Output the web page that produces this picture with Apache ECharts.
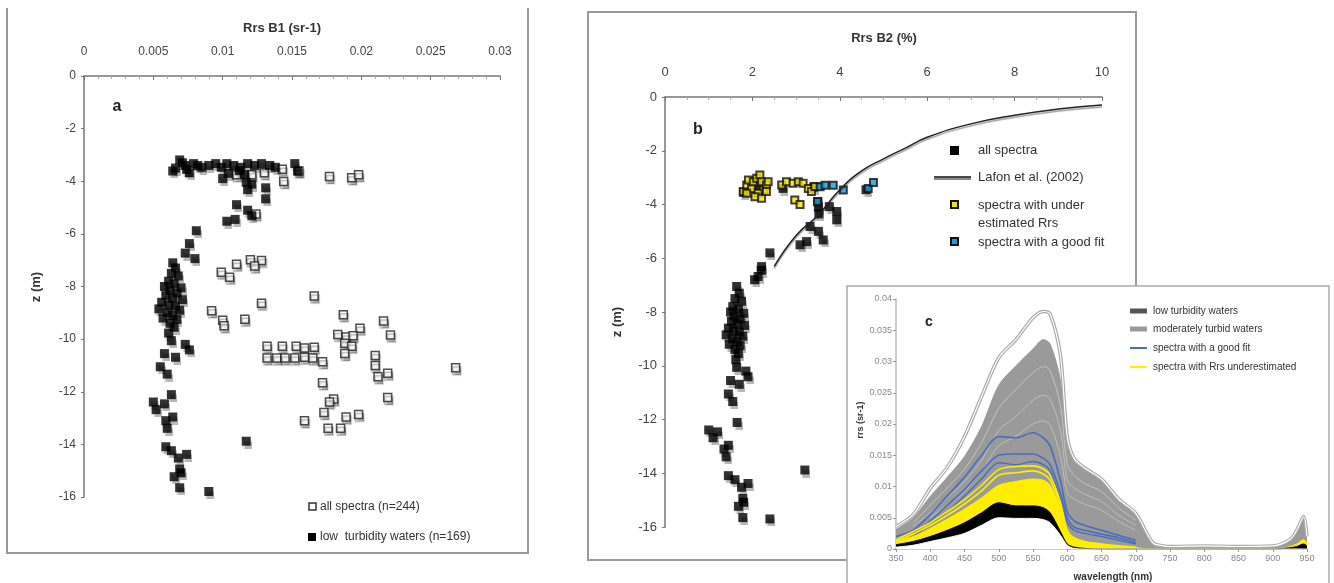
<!DOCTYPE html>
<html>
<head>
<meta charset="utf-8">
<script src="https://cdn.jsdelivr.net/npm/echarts@6/dist/echarts.min.js"></script>
<style>
  html, body { margin: 0; padding: 0; background: #fff; }
  #fig { width: 1334px; height: 583px; }
</style>
</head>
<body>
<div id="fig"></div>
<script>
// ---- panel a : Rrs B1 vs depth ----
var aAllX = [0.0110,0.0121,0.0130,0.0143,0.0144,0.0155,0.0177,0.0193,0.0198,0.0124,0.0110,0.0120,0.0128,0.0123,0.0099,0.0105,0.0128,0.0166,0.0092,0.0100,0.0101,0.0116,0.0187,0.0216,0.0199,0.0183,0.0189,0.0194,0.0221,0.0188,0.0193,0.0188,0.0132,0.0143,0.0153,0.0159,0.0166,0.0132,0.0139,0.0145,0.0152,0.0159,0.0165,0.0172,0.0210,0.0210,0.0212,0.0219,0.0268,0.0172,0.0219,0.0180,0.0177,0.0173,0.0189,0.0198,0.0159,0.0176,0.0185];
var aAllZ = [-3.75,-3.75,-3.68,-3.54,-4.01,-3.61,-3.82,-3.87,-3.75,-5.24,-7.15,-6.98,-7.01,-7.22,-7.46,-7.65,-8.64,-8.36,-8.92,-9.28,-9.49,-9.24,-9.07,-9.31,-9.59,-9.82,-9.92,-9.87,-9.84,-10.16,-10.27,-10.55,-10.27,-10.27,-10.27,-10.34,-10.31,-10.72,-10.72,-10.72,-10.72,-10.69,-10.72,-10.86,-10.62,-11.0,-11.43,-11.30,-11.09,-11.66,-12.22,-12.28,-12.39,-12.79,-12.96,-12.86,-13.10,-13.39,-13.39];

var aLowX = [0.0064,0.0069,0.0073,0.0076,0.0079,0.0085,0.0090,0.0095,0.0099,0.0100,0.0103,0.0108,0.0113,0.0116,0.0118,0.0123,0.0128,0.0134,0.0138,0.0152,0.0154,0.0066,0.0071,0.0074,0.0082,0.0104,0.0112,
  0.0117,0.0118,0.0121,0.0131,0.0131,0.0110,0.0118,0.0121,0.0103,0.0109,0.0081,0.0076,0.0073,0.0080,
  0.0064,0.0066,0.0063,0.0068,0.0061,0.0065,0.0058,0.0070,0.0062,0.0067,0.0059,0.0064,0.0071,0.0056,0.0061,0.0066,0.0054,0.0069,0.0060,0.0064,0.0057,0.0067,0.0062,0.0065,
  0.0061,0.0063,0.0073,0.0076,0.0058,0.0066,0.0055,0.0060,0.0063,0.0050,0.0052,0.0058,0.0064,0.0059,0.0060,0.0059,0.0063,0.0068,0.0074,0.0069,0.0070,0.0065,0.0069,0.0090,0.0117];
var aLowZ = [-3.61,-3.19,-3.40,-3.68,-3.33,-3.47,-3.40,-3.33,-3.47,-3.90,-3.33,-3.40,-3.47,-3.75,-3.33,-3.40,-3.33,-3.40,-3.47,-3.33,-3.61,-3.50,-3.30,-3.55,-3.40,-3.70,-3.60,
  -4.04,-4.32,-4.11,-4.25,-4.67,-4.89,-5.10,-5.31,-5.52,-5.45,-5.88,-6.37,-6.73,-6.94,
  -7.10,-7.30,-7.50,-7.60,-7.80,-7.90,-8.00,-8.05,-8.15,-8.25,-8.35,-8.45,-8.50,-8.60,-8.70,-8.75,-8.85,-8.90,-9.00,-9.10,-9.20,-9.25,-9.40,-9.55,
  -9.77,-10.06,-10.20,-10.41,-10.55,-10.69,-11.05,-11.33,-12.11,-12.39,-12.68,-12.46,-12.96,-13.10,-13.39,-14.09,-14.24,-14.52,-14.38,-14.94,-15.08,-15.23,-15.65,-15.79,-13.88];

// ---- panel b : Rrs B2 vs depth ----
var bAllX = [1.80,2.10,2.70,3.40,4.60,3.50,3.51,3.52,3.76,3.93,3.93,3.32,3.51,3.62,3.24,3.09,2.40,2.21,2.13,2.05,2.20,
  1.64,1.70,1.60,1.75,1.55,1.68,1.50,1.80,1.58,1.72,1.52,1.65,1.82,1.45,1.57,1.70,1.40,1.78,1.55,1.65,1.47,1.72,1.60,1.68,
  1.62,1.64,1.85,1.90,1.50,1.70,1.45,1.55,1.65,1.00,1.10,1.20,1.45,1.35,1.40,1.45,1.60,1.75,1.90,1.78,1.80,1.68,1.78,2.40,3.20];
var bAllZ = [-3.55,-3.30,-3.40,-3.35,-3.45,-3.90,-4.10,-4.35,-4.08,-4.26,-4.57,-4.82,-5.00,-5.32,-5.38,-5.50,-5.80,-6.31,-6.68,-6.80,-6.45,
  -7.05,-7.30,-7.50,-7.60,-7.80,-7.90,-8.00,-8.05,-8.15,-8.25,-8.35,-8.45,-8.50,-8.60,-8.70,-8.75,-8.85,-8.90,-9.00,-9.10,-9.20,-9.25,-9.40,-9.55,
  -9.77,-10.06,-10.20,-10.41,-10.55,-10.69,-11.05,-11.33,-12.11,-12.39,-12.68,-12.46,-12.96,-13.10,-13.39,-14.09,-14.24,-14.52,-14.38,-14.94,-15.08,-15.23,-15.65,-15.70,-13.88];

var bUnderX = [1.79,1.87,1.91,1.98,2.02,2.10,2.17,2.21,2.25,2.32,2.13,2.06,2.21,2.32,1.87,2.36,2.67,2.78,2.93,3.05,3.16,3.28,3.35,3.43,2.97,3.09];
var bUnderZ = [-3.52,-3.27,-3.09,-3.40,-3.15,-3.02,-2.90,-3.15,-3.46,-3.27,-3.58,-3.71,-3.77,-3.52,-3.58,-3.15,-3.27,-3.15,-3.21,-3.15,-3.21,-3.40,-3.52,-3.33,-3.83,-4.00];

var bGoodX = [3.55,3.66,3.85,4.08,3.49,4.65,4.77];
var bGoodZ = [-3.34,-3.28,-3.28,-3.46,-3.89,-3.40,-3.18];

var lafonX = [2.5,3.0,3.5,4.0,4.5,5.0,5.5,6.0,7.0,8.0,9.0,10.0];
var lafonZ = [-6.3,-5.15,-4.4,-3.45,-2.75,-2.3,-1.9,-1.5,-1.0,-0.68,-0.45,-0.3];

// ---- panel c : spectra ----
var wl       = [350,375,400,425,450,475,500,525,550,565,575,590,600,610,625,650,675,700,725,740,750,800,850,900,925,935,945,950];
var rrsMax   = [0.0036,0.0055,0.0097,0.0131,0.0180,0.0244,0.0306,0.0335,0.0370,0.0380,0.0376,0.0310,0.0180,0.0145,0.0130,0.0112,0.0080,0.0057,0.0010,0.0005,0.0004,0.0005,0.0004,0.0005,0.0015,0.0030,0.0052,0.0020];
var grayTop  = [0.0031,0.0050,0.0084,0.0115,0.0148,0.0196,0.0262,0.0293,0.0320,0.0335,0.0328,0.0270,0.0170,0.0142,0.0128,0.0110,0.0079,0.0056,0.0010,0.0005,0.0004,0.0005,0.0004,0.0005,0.0015,0.0030,0.0050,0.0020];
var streak1  = [null,0.0042,0.0070,0.0098,0.0128,0.0170,0.0225,0.0255,0.0282,0.0292,0.0285,0.0230,0.0135,0.0118,0.0105,0.0092,0.0066,0.0046,null,null,null,null,null,null,null,null,null,null];
var streak2  = [null,0.0036,0.0058,0.0082,0.0108,0.0142,0.0190,0.0212,0.0238,0.0246,0.0240,0.0190,0.0110,0.0098,0.0088,0.0076,0.0054,0.0038,null,null,null,null,null,null,null,null,null,null];
var streak3  = [null,null,0.0050,0.0070,0.0092,0.0125,0.0165,0.0180,0.0200,0.0205,0.0198,0.0150,0.0090,0.0080,0.0072,0.0062,0.0044,0.0030,null,null,null,null,null,null,null,null,null,null];
var blue1    = [0.0020,0.0030,0.0055,0.0085,0.0115,0.0150,0.0180,0.0178,0.0186,0.0178,0.0165,0.0110,0.0060,0.0045,0.0038,0.0030,0.0022,0.0014,null,null,null,null,null,null,null,null,null,null];
var blue2    = [0.0015,0.0025,0.0045,0.0070,0.0095,0.0125,0.0150,0.0152,0.0152,0.0145,0.0135,0.0090,0.0050,0.0035,0.0030,0.0024,0.0018,0.0010,null,null,null,null,null,null,null,null,null,null];
var blue3    = [0.0012,0.0020,0.0040,0.0060,0.0085,0.0112,0.0138,0.0135,0.0140,0.0135,0.0125,0.0080,0.0042,0.0030,0.0025,0.0020,0.0014,0.0008,null,null,null,null,null,null,null,null,null,null];
var yellow1  = [0.0015,0.0028,0.0042,0.0060,0.0079,0.0102,0.0127,0.0132,0.0133,0.0128,0.0118,0.0075,0.0030,0.0018,0.0012,0.0008,0.0005,0.0003,null,null,null,null,null,null,null,null,null,null];
var yellow2  = [0.0013,0.0024,0.0038,0.0054,0.0072,0.0093,0.0118,0.0122,0.0125,0.0120,0.0110,0.0070,0.0028,0.0016,0.0011,0.0007,0.0004,0.0002,null,null,null,null,null,null,null,null,null,null];
var yellowBand = [0.0012,0.0020,0.0033,0.0048,0.0064,0.0082,0.0102,0.0108,0.0112,0.0110,0.0102,0.0065,0.0025,0.0015,0.0010,0.0007,0.0004,0.0002,0,0,0,0,0,0,0.0004,0.0008,0.0015,0.0010];
var blackBand  = [0.0007,0.0012,0.0020,0.0030,0.0042,0.0058,0.0074,0.0069,0.0069,0.0066,0.0058,0.0028,0.0008,0.0003,0.0001,0,0,0,0,0,0,0,0,0,0.0002,0.0004,0.0008,0.0005];
var rrsMin     = [0.0003,0.0006,0.0012,0.0018,0.0025,0.0038,0.0050,0.0049,0.0049,0.0047,0.0042,0.0022,0.0006,0.0001,0,0,0,0,0,0,0,0,0,0,0,0,0,0];

var FONT = 'Liberation Sans, Arial, sans-serif';

function zip(xs, ys) {
  var out = [];
  for (var i = 0; i < xs.length; i++) out.push([xs[i], ys[i]]);
  return out;
}

var shadowItem = { shadowColor: 'rgba(0,0,0,0.35)', shadowBlur: 1, shadowOffsetX: 1, shadowOffsetY: 3 };

function specLine(vals, color, width, opacity, z) {
  return {
    type: 'line', xAxisIndex: 2, yAxisIndex: 2, data: zip(wl, vals),
    symbol: 'none', smooth: 0.3, silent: true, connectNulls: false, z: z,
    lineStyle: { color: color, width: width, opacity: opacity }
  };
}
function specArea(vals, color, z) {
  return {
    type: 'line', xAxisIndex: 2, yAxisIndex: 2, data: zip(wl, vals),
    symbol: 'none', smooth: 0.3, silent: true, z: z,
    lineStyle: { color: color, width: 1 },
    areaStyle: { color: color, opacity: 1, origin: 'start' }
  };
}

var chart = echarts.init(document.getElementById('fig'));

var axisGrey = '#999';

var option = {
  backgroundColor: '#fff',
  animation: false,
  textStyle: { fontFamily: FONT },
  grid: [
    { left: 84, top: 76, width: 416, height: 421 },
    { left: 665, top: 97, width: 437, height: 430 },
    { left: 896, top: 299, width: 411, height: 250 }
  ],
  xAxis: [
    {
      gridIndex: 0, type: 'value', position: 'top', min: 0, max: 0.03, interval: 0.005,
      axisLine: { onZero: false, lineStyle: { color: axisGrey, width: 2 } },
      axisTick: { inside: true, length: 4, lineStyle: { color: '#777' } },
      minorTick: { show: true, splitNumber: 5, length: 3, lineStyle: { color: '#aaa' } },
      axisLabel: { color: '#444', fontSize: 12, margin: 18 },
      splitLine: { show: false }
    },
    {
      gridIndex: 1, type: 'value', position: 'top', min: 0, max: 10, interval: 2,
      axisLine: { onZero: false, lineStyle: { color: axisGrey, width: 2 } },
      axisTick: { inside: true, length: 4, lineStyle: { color: '#777' } },
      minorTick: { show: true, splitNumber: 4, length: 3, lineStyle: { color: '#aaa' } },
      axisLabel: { color: '#444', fontSize: 13, margin: 18 },
      splitLine: { show: false }
    },
    {
      gridIndex: 2, type: 'value', min: 350, max: 950, interval: 50,
      axisLine: { onZero: false, lineStyle: { color: '#bbb', width: 1.5 } },
      axisTick: { length: 3, lineStyle: { color: '#999' } },
      axisLabel: { color: '#888', fontSize: 9, margin: 5 },
      splitLine: { show: false }
    }
  ],
  yAxis: [
    {
      gridIndex: 0, type: 'value', min: -16, max: 0, interval: 2,
      axisLine: { show: true, onZero: false, lineStyle: { color: axisGrey, width: 2 } },
      axisTick: { show: true, length: 3, lineStyle: { color: '#777' } },
      axisLabel: { color: '#444', fontSize: 12, margin: 8 },
      splitLine: { show: false }
    },
    {
      gridIndex: 1, type: 'value', min: -16, max: 0, interval: 2,
      axisLine: { show: true, onZero: false, lineStyle: { color: axisGrey, width: 2 } },
      axisTick: { show: true, length: 3, lineStyle: { color: '#777' } },
      axisLabel: { color: '#444', fontSize: 13, margin: 8 },
      splitLine: { show: false }
    },
    {
      gridIndex: 2, type: 'value', min: 0, max: 0.04, interval: 0.005,
      axisLine: { show: true, onZero: false, lineStyle: { color: '#bbb', width: 1.5 } },
      axisTick: { show: true, length: 3, lineStyle: { color: '#999' } },
      axisLabel: { color: '#888', fontSize: 9, margin: 4 },
      splitLine: { show: false }
    }
  ],
  series: [
    // panel a
    {
      name: 'all spectra (n=244)', type: 'scatter', xAxisIndex: 0, yAxisIndex: 0,
      data: zip(aAllX, aAllZ), symbol: 'rect', symbolSize: 8,
      itemStyle: Object.assign({ color: '#fff', borderColor: '#222', borderWidth: 1.5 }, shadowItem)
    },
    {
      name: 'low turbidity waters (n=169)', type: 'scatter', xAxisIndex: 0, yAxisIndex: 0,
      data: zip(aLowX, aLowZ), symbol: 'rect', symbolSize: 9,
      itemStyle: Object.assign({ color: '#000' }, shadowItem)
    },
    // panel b
    {
      name: 'Lafon et al. (2002)', type: 'line', xAxisIndex: 1, yAxisIndex: 1,
      data: zip(lafonX, lafonZ), symbol: 'none', smooth: true,
      lineStyle: { color: '#222', width: 1.5, shadowColor: 'rgba(0,0,0,0.4)', shadowBlur: 1, shadowOffsetY: 2 }
    },
    {
      name: 'all spectra', type: 'scatter', xAxisIndex: 1, yAxisIndex: 1,
      data: zip(bAllX, bAllZ), symbol: 'rect', symbolSize: 9,
      itemStyle: Object.assign({ color: '#000' }, shadowItem)
    },
    {
      name: 'spectra with under estimated Rrs', type: 'scatter', xAxisIndex: 1, yAxisIndex: 1,
      data: zip(bUnderX, bUnderZ), symbol: 'rect', symbolSize: 7,
      itemStyle: { color: '#f5e600', borderColor: '#111', borderWidth: 2 }
    },
    {
      name: 'spectra with a good fit', type: 'scatter', xAxisIndex: 1, yAxisIndex: 1,
      data: zip(bGoodX, bGoodZ), symbol: 'rect', symbolSize: 7,
      itemStyle: { color: '#1e9ad8', borderColor: '#111', borderWidth: 2 }
    },
    // panel c
    specArea(grayTop, '#9a9a9a', 3),
    specLine(rrsMax, '#a8a8a8', 3.5, 1, 3),
    specLine(rrsMax, '#ffffff', 1.2, 1, 4),
    specLine(streak1, '#ffffff', 1, 0.4, 4),
    specLine(streak2, '#ffffff', 1, 0.35, 4),
    specLine(streak3, '#ffffff', 1, 0.35, 4),
    specLine(blue1, '#4a6cc0', 1.6, 1, 5),
    specLine(blue2, '#4a6cc0', 1.6, 1, 5),
    specLine(blue3, '#4a6cc0', 1.4, 1, 5),
    specLine(yellow1, '#ffee00', 1.6, 1, 5),
    specLine(yellow2, '#ffee00', 1.6, 1, 5),
    specArea(yellowBand, '#ffee00', 6),
    specArea(blackBand, '#000000', 7),
    specArea(rrsMin, '#ffffff', 8)
  ],
  graphic: [
    // frames
    { type: 'polyline', z: -10, shape: { points: [[7, 8], [7, 553], [528, 553], [528, 8]] }, style: { stroke: '#999', lineWidth: 2, fill: null } },
    { type: 'polyline', z: -10, shape: { points: [[847, 560], [588, 560], [588, 12], [1136, 12], [1136, 286]] }, style: { stroke: '#999', lineWidth: 2, fill: null } },
    { type: 'rect', z: -5, shape: { x: 847, y: 286, width: 482, height: 310 }, style: { fill: '#fff', stroke: '#aaa', lineWidth: 1.5 } },

    // panel a texts
    { type: 'text', x: 282, y: 28, style: { text: 'Rrs B1 (sr-1)', font: 'bold 13px ' + FONT, fill: '#333', align: 'center', verticalAlign: 'middle' } },
    { type: 'text', x: 36, y: 287, rotation: Math.PI / 2, style: { text: 'z (m)', font: 'bold 13px ' + FONT, fill: '#333', align: 'center', verticalAlign: 'middle' } },
    { type: 'text', x: 117, y: 107, style: { text: 'a', font: 'bold 16px ' + FONT, fill: '#222', align: 'center', verticalAlign: 'middle' } },
    { type: 'rect', shape: { x: 309, y: 503, width: 7, height: 7 }, style: { fill: '#fff', stroke: '#333', lineWidth: 1.5 } },
    { type: 'text', x: 320, y: 507, style: { text: 'all spectra (n=244)', font: '12px ' + FONT, fill: '#333', verticalAlign: 'middle' } },
    { type: 'rect', shape: { x: 308, y: 533, width: 8, height: 8 }, style: { fill: '#000' } },
    { type: 'text', x: 320, y: 537, style: { text: 'low  turbidity waters (n=169)', font: '12px ' + FONT, fill: '#333', verticalAlign: 'middle' } },

    // panel b texts
    { type: 'text', x: 884, y: 38, style: { text: 'Rrs B2 (%)', font: 'bold 13px ' + FONT, fill: '#333', align: 'center', verticalAlign: 'middle' } },
    { type: 'text', x: 617, y: 322, rotation: Math.PI / 2, style: { text: 'z (m)', font: 'bold 13px ' + FONT, fill: '#333', align: 'center', verticalAlign: 'middle' } },
    { type: 'text', x: 698, y: 130, style: { text: 'b', font: 'bold 16px ' + FONT, fill: '#222', align: 'center', verticalAlign: 'middle' } },
    { type: 'rect', shape: { x: 950, y: 146, width: 9, height: 9 }, style: { fill: '#000' } },
    { type: 'text', x: 978, y: 150, style: { text: 'all spectra', font: '13px ' + FONT, fill: '#333', verticalAlign: 'middle' } },
    { type: 'line', shape: { x1: 934, y1: 178, x2: 971, y2: 178 }, style: { stroke: '#888', lineWidth: 4 } },
    { type: 'line', shape: { x1: 934, y1: 177, x2: 971, y2: 177 }, style: { stroke: '#333', lineWidth: 1.5 } },
    { type: 'text', x: 978, y: 177, style: { text: 'Lafon et al. (2002)', font: '13px ' + FONT, fill: '#333', verticalAlign: 'middle' } },
    { type: 'rect', shape: { x: 951, y: 201, width: 7, height: 7 }, style: { fill: '#f5e600', stroke: '#111', lineWidth: 2 } },
    { type: 'text', x: 978, y: 205, style: { text: 'spectra with under', font: '13px ' + FONT, fill: '#333', verticalAlign: 'middle' } },
    { type: 'text', x: 978, y: 223, style: { text: 'estimated Rrs', font: '13px ' + FONT, fill: '#333', verticalAlign: 'middle' } },
    { type: 'rect', shape: { x: 951, y: 238, width: 7, height: 7 }, style: { fill: '#1e9ad8', stroke: '#111', lineWidth: 2 } },
    { type: 'text', x: 978, y: 242, style: { text: 'spectra with a good fit', font: '13px ' + FONT, fill: '#333', verticalAlign: 'middle' } },

    // panel c texts
    { type: 'text', x: 929, y: 322, z: 20, style: { text: 'c', font: 'bold 14px ' + FONT, fill: '#222', align: 'center', verticalAlign: 'middle' } },
    { type: 'text', x: 861, y: 420, z: 20, rotation: Math.PI / 2, style: { text: 'rrs (sr-1)', font: 'bold 9px ' + FONT, fill: '#333', align: 'center', verticalAlign: 'middle' } },
    { type: 'text', x: 1113, y: 577, z: 20, style: { text: 'wavelength (nm)', font: 'bold 10px ' + FONT, fill: '#333', align: 'center', verticalAlign: 'middle' } },
    { type: 'line', z: 20, shape: { x1: 1130, y1: 311, x2: 1147, y2: 311 }, style: { stroke: '#555', lineWidth: 5 } },
    { type: 'text', x: 1153, y: 311, z: 20, style: { text: 'low turbidity waters', font: '10px ' + FONT, fill: '#333', verticalAlign: 'middle' } },
    { type: 'line', z: 20, shape: { x1: 1130, y1: 329, x2: 1147, y2: 329 }, style: { stroke: '#999', lineWidth: 5 } },
    { type: 'text', x: 1153, y: 329, z: 20, style: { text: 'moderately turbid waters', font: '10px ' + FONT, fill: '#333', verticalAlign: 'middle' } },
    { type: 'line', z: 20, shape: { x1: 1130, y1: 348, x2: 1147, y2: 348 }, style: { stroke: '#4a6cc0', lineWidth: 2 } },
    { type: 'text', x: 1153, y: 348, z: 20, style: { text: 'spectra with a good fit', font: '10px ' + FONT, fill: '#333', verticalAlign: 'middle' } },
    { type: 'line', z: 20, shape: { x1: 1130, y1: 367, x2: 1147, y2: 367 }, style: { stroke: '#ffee00', lineWidth: 2 } },
    { type: 'text', x: 1153, y: 367, z: 20, style: { text: 'spectra with Rrs underestimated', font: '10px ' + FONT, fill: '#333', verticalAlign: 'middle' } }
  ]
};

chart.setOption(option);
</script>
</body>
</html>
